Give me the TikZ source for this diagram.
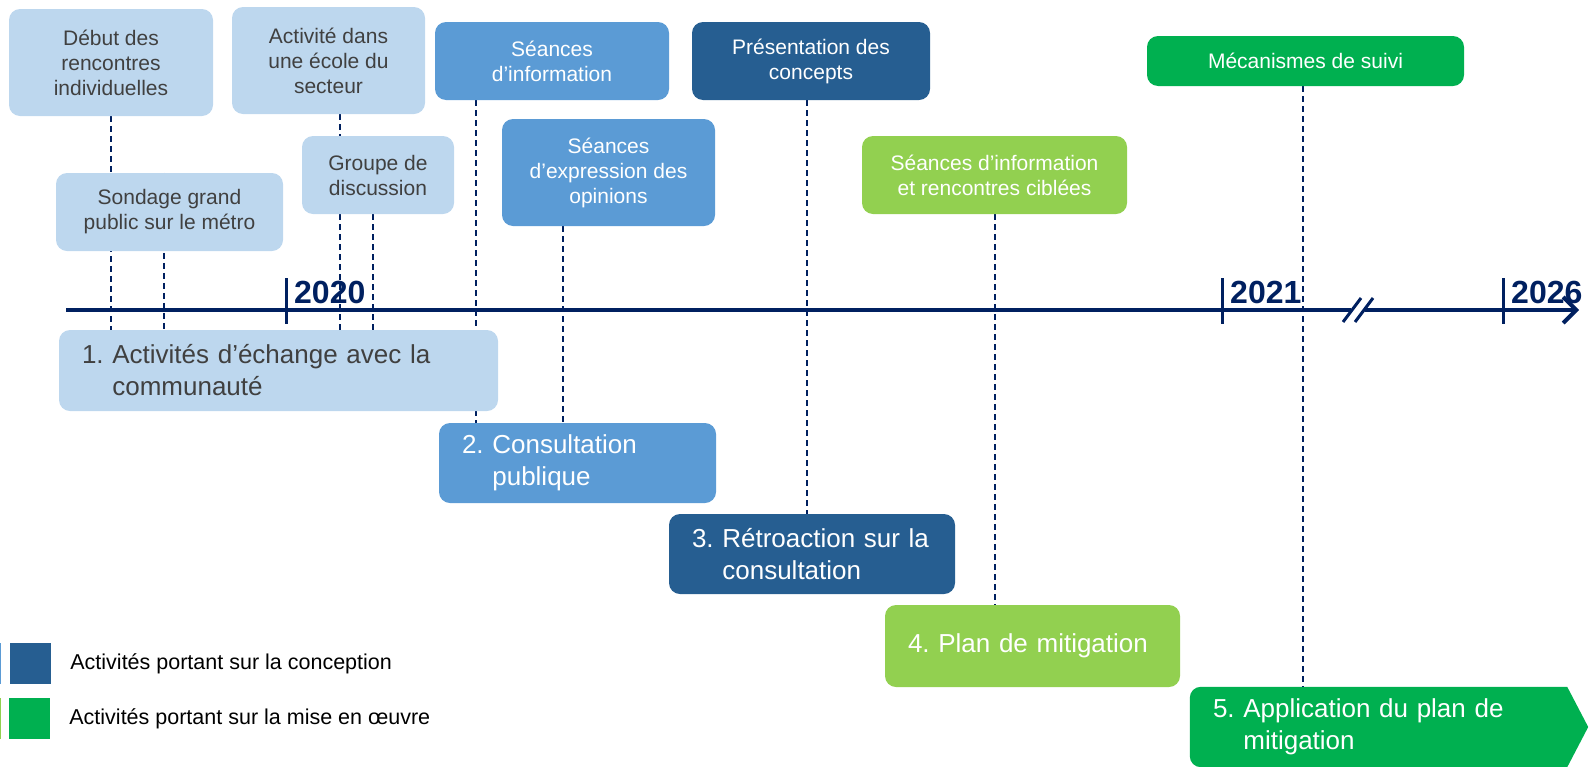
\documentclass[tikz,border=0pt]{standalone}
\usepackage{fontspec}
\setmainfont{Liberation Sans}
\usetikzlibrary{positioning,arrows.meta,backgrounds}
\definecolor{lightblue}{HTML}{BDD7EE}
\definecolor{midblue}{HTML}{5B9BD5}
\definecolor{darkblue}{HTML}{265E91}
\definecolor{lightgreen}{HTML}{92D050}
\definecolor{implgreen}{HTML}{00B050}
\definecolor{navy}{HTML}{002060}
\definecolor{textgray}{HTML}{404040}
\tikzset{
  event/.style={rounded corners=11pt,inner sep=0pt,align=center,font=\fontsize{21}{25}\selectfont},
  evlight/.style={event,fill=lightblue,text=textgray},
  evmid/.style={event,fill=midblue,text=white},
  evdark/.style={event,fill=darkblue,text=white},
  evlgreen/.style={event,fill=lightgreen,text=white},
  evgreen/.style={event,fill=implgreen,text=white},
  phase/.style={rounded corners=11pt,inner xsep=23pt,inner ysep=0pt,align=left,text=white,font=\fontsize{26}{32}\selectfont},
  link/.style={draw=navy,line width=2pt,dash pattern=on 6pt off 4pt},
  axis/.style={draw=navy,line width=4pt},
  tick/.style={draw=navy,line width=3pt},
  year/.style={text=navy,inner sep=0pt,font=\fontsize{32}{36}\selectfont\bfseries},
  legsq/.style={minimum size=41pt,inner sep=0pt},
  legtext/.style={inner sep=0pt,font=\fontsize{21.5}{25}\selectfont},
}
\begin{document}
\begin{tikzpicture}[x=1pt,y=-1pt]
  \useasboundingbox (0,0) rectangle (1589,766);
  % activites
  \node[evlight,minimum width=204pt,minimum height=107pt] (deb) at (111,62.5) {Début des\\rencontres\\individuelles};
  \node[evlight,minimum width=193pt,minimum height=107pt] (act) at (328.5,60.5) {Activité dans\\une école du\\secteur};
  \node[evmid,minimum width=234pt,minimum height=78pt] (inf) at (552,61) {Séances\\d’information};
  \node[evdark,minimum width=238pt,minimum height=78pt] (pre) at (811,61) {Présentation des\\concepts};
  \node[evgreen,minimum width=317pt,minimum height=50pt] (mec) at (1305.5,61) {Mécanismes de suivi};
  \node[evlight,minimum width=227pt,minimum height=78pt] (son) at (169.5,212) {Sondage grand\\public sur le métro};
  \node[evlight,minimum width=152pt,minimum height=78pt] (grp) at (378,175) {Groupe de\\discussion};
  \node[evmid,minimum width=213pt,minimum height=107pt] (exp) at (608.5,172.5) {Séances\\d’expression des\\opinions};
  \node[evlgreen,minimum width=265pt,minimum height=78pt] (cib) at (994.5,175) {Séances d’information\\et rencontres ciblées};
  % etapes
  \node[phase,fill=lightblue,text=textgray,text width=393pt,minimum height=81pt] (ph1) at (278.5,370.5)
    {1.\ Activités d’échange avec la\\\phantom{1.}\ communauté};
  \node[phase,fill=midblue,text width=231pt,minimum height=80pt] (ph2) at (577.5,463)
    {2.\ Consultation\\\phantom{2.}\ publique};
  \node[phase,fill=darkblue,text width=240pt,minimum height=80pt] (ph3) at (812,554)
    {3.\ Rétroaction sur la\\\phantom{3.}\ consultation};
  \node[phase,fill=lightgreen,text width=249pt,minimum height=82pt] (ph4) at (1032.5,646)
    {4.\ Plan de mitigation};
  \node[phase,text width=331pt,minimum height=80pt] (ph5) at (1378.5,727)
    {5.\ Application du plan de\\\phantom{5.}\ mitigation};
  \begin{pgfonlayer}{background}
    \fill[implgreen,rounded corners=11pt] (ph5.north west) rectangle ([xshift=-20pt]ph5.south east);
    \fill[implgreen] ([xshift=-30pt]ph5.north east) -- (ph5.north east) -- ([xshift=21pt]ph5.east)
      -- (ph5.south east) -- ([xshift=-30pt]ph5.south east) -- cycle;
    % liens
    \draw[link] (deb.south) -- (deb.south |- ph1.north);
    \draw[link] ([xshift=-5.5pt]son.north) -- ([xshift=-5.5pt]son.north |- ph1.north);
    \draw[link] ([xshift=11.5pt]act.south) -- ([xshift=11.5pt]act.south |- ph1.north);
    \draw[link] ([xshift=-5pt]grp.south) -- ([xshift=-5pt]grp.south |- ph1.north);
    \draw[link] ([xshift=-76pt]inf.south) -- ([xshift=-76pt]inf.south |- ph2.north);
    \draw[link] ([xshift=-45.5pt]exp.south) -- ([xshift=-45.5pt]exp.south |- ph2.north);
    \draw[link] ([xshift=-4pt]pre.south) -- ([xshift=-4pt]pre.south |- ph3.north);
    \draw[link] (cib.south) -- (cib.south |- ph4.north);
    \draw[link] ([xshift=-2.5pt]mec.south) -- ([xshift=-2.5pt]mec.south |- ph5.north);
  \end{pgfonlayer}
  % axe du temps
  \draw[axis] (66,310) -- (1351,310);
  \draw[axis,-{Straight Barb[length=13pt,width=26pt]}] (1365,310) -- (1579,310);
  \draw[tick] (1343,322) -- (1361,298) (1355,322) -- (1373,298);
  \foreach \x/\yr in {286/2020,1222/2021,1503/2026}{
    \draw[tick] (\x,278) -- (\x,324);
    \node[year,anchor=base west] (y\yr) at (\x+8,303) {\yr};
  }
  % legende
  \node[legsq,fill=darkblue] (lg1) at (30.5,663.5) {};
  \node[legsq,fill=midblue,left=8.5pt of lg1] (lg0) {};
  \node[legtext,anchor=west,right=19pt of lg1] (lt1) {Activités portant sur la conception};
  \node[legsq,fill=implgreen] (lg2) at (29.5,718.5) {};
  \node[legsq,fill=lightgreen,left=8pt of lg2] (lg3) {};
  \node[legtext,anchor=west,right=19pt of lg2] (lt2) {Activités portant sur la mise en œuvre};
\end{tikzpicture}
\end{document}
